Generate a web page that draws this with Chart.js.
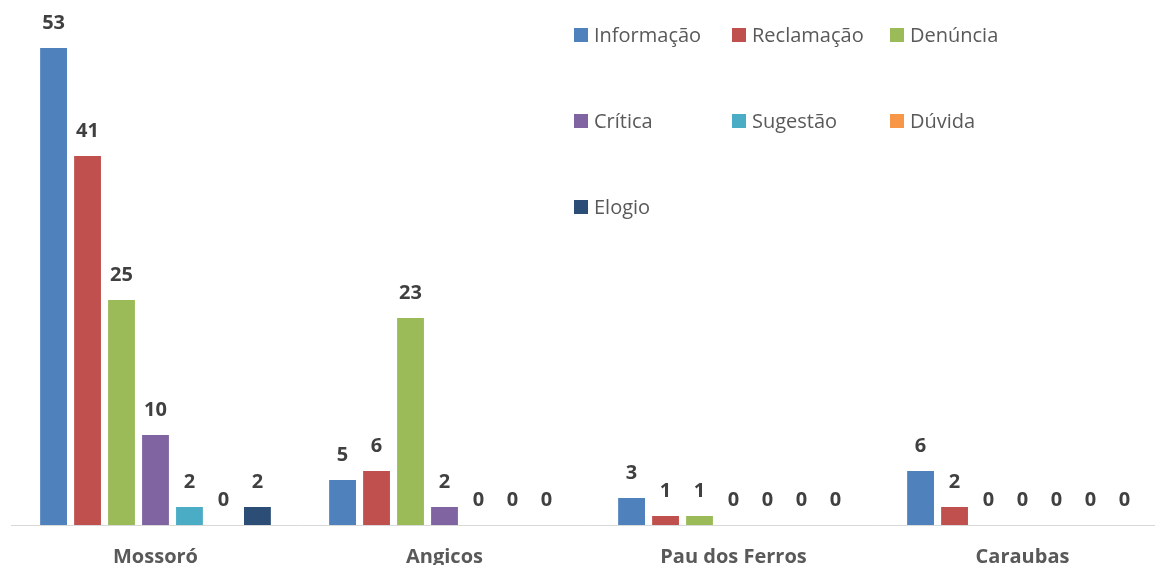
<!DOCTYPE html>
<html>
<head>
<meta charset="utf-8">
<script src="https://cdn.jsdelivr.net/npm/chart.js@4"></script>
<style>
  html, body { margin: 0; padding: 0; background: #fff; }
  #wrap { position: relative; width: 1155px; height: 565px; overflow: hidden; }
  #legend {
    position: absolute; left: 574px; top: 21px;
    display: grid; grid-template-columns: 158px 158px 140px; grid-auto-rows: 86px;
    font-family: "Open Sans", sans-serif; font-size: 20px; color: #595959;
  }
  .item { display: flex; align-items: flex-start; height: 28px; line-height: 28px; white-space: nowrap; }
  .box { width: 14px; height: 14px; margin: 7px 6px 0 0; flex: none; }
</style>
</head>
<body>
<div id="wrap">
  <canvas id="myChart" width="1167" height="583"></canvas>
  <div id="legend"></div>
</div>
<script>
const categories = ['Mossoró', 'Angicos', 'Pau dos Ferros', 'Caraubas'];
const seriesNames = ['Informação', 'Reclamação', 'Denúncia', 'Crítica', 'Sugestão', 'Dúvida', 'Elogio'];
const informacao = [53, 5, 3, 6];
const reclamacao = [41, 6, 1, 2];
const denuncia = [25, 23, 1, 0];
const critica = [10, 2, 0, 0];
const sugestao = [2, 0, 0, 0];
const duvida = [0, 0, 0, 0];
const elogio = [2, 0, 0, 0];

const colors = ['#4F81BD', '#C0504D', '#9BBB59', '#8064A2', '#4BACC6', '#F79646', '#2C4D75'];
const values = [informacao, reclamacao, denuncia, critica, sugestao, duvida, elogio];

const datasets = seriesNames.map((name, i) => ({
  label: name,
  data: values[i],
  backgroundColor: colors[i],
  borderWidth: 0,
  categoryPercentage: 0.823,
  barPercentage: 0.79,
}));

// value labels above each bar, zeros included
const valueLabels = {
  id: 'valueLabels',
  afterDatasetsDraw(chart) {
    const ctx = chart.ctx;
    ctx.save();
    ctx.font = 'bold 20px "Open Sans", sans-serif';
    ctx.fillStyle = '#404040';
    ctx.textAlign = 'center';
    ctx.textBaseline = 'middle';
    chart.data.datasets.forEach((ds, i) => {
      chart.getDatasetMeta(i).data.forEach((bar, j) => {
        ctx.fillText(ds.data[j], bar.x, bar.y - 25);
      });
    });
    ctx.restore();
  }
};

const ctx = document.getElementById('myChart').getContext('2d');
new Chart(ctx, {
  type: 'bar',
  data: { labels: categories, datasets: datasets },
  options: {
    responsive: false,
    animation: false,
    layout: { padding: { left: 11, top: 3, right: 0, bottom: 2 } },
    plugins: { legend: { display: false }, tooltip: { enabled: false } },
    scales: {
      x: {
        grid: { display: false },
        border: { color: '#D9D9D9', width: 1 },
        ticks: { color: '#595959', padding: 12, font: { family: '"Open Sans", sans-serif', size: 20, weight: 'bold' } },
      },
      y: { display: false, min: 0, max: 58 },
    },
  },
  plugins: [valueLabels],
});

const legend = document.getElementById('legend');
seriesNames.forEach((name, i) => {
  const item = document.createElement('div');
  item.className = 'item';
  item.innerHTML = '<span class="box" style="background:' + colors[i] + '"></span><span>' + name + '</span>';
  legend.appendChild(item);
});
</script>
</body>
</html>
